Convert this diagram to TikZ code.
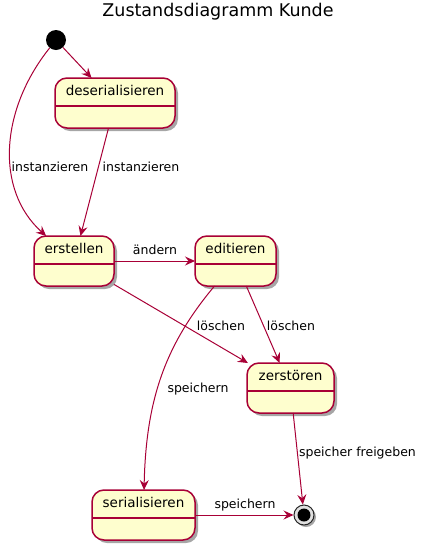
\documentclass[tikz,border=0pt]{standalone}
\usepackage{fontspec}
\setmainfont{DejaVu Sans}
\usepackage{tikz}
\usetikzlibrary{arrows.meta, shadows}
\definecolor{umlborder}{HTML}{A80036}
\definecolor{umlfill}{HTML}{FEFECE}

\begin{document}
\begin{tikzpicture}[
    x=1pt, y=-1pt,
    state/.style={draw=umlborder, fill=umlfill, line width=1.5pt, rounded corners=12pt, outer sep=0pt,
        minimum height=50pt, text height=10pt, text depth=25pt, inner ysep=7.5pt, inner xsep=0pt,
        drop shadow={shadow xshift=3pt, shadow yshift=-3pt, opacity=0.35, fill=black},
        font=\fontsize{13.5}{16}\selectfont},
    dot/.style={circle, fill=black, draw=none, inner sep=0pt},
    trans/.style={draw=umlborder, line width=1pt, -{Stealth[length=10pt, width=9pt, inset=3.5pt]}},
    lbl/.style={font=\fontsize{12.5}{15}\selectfont, inner sep=0pt}
]
    \useasboundingbox (0,0) rectangle (428,550);

    % Title
    \node[font=\fontsize{17.5}{20}\selectfont] (title) at (218,12) {Zustandsdiagramm Kunde};

    % Start and end
    \node[dot, minimum size=20pt] (ini) at (56,40) {};
    \node[circle, draw=black!85, fill=black!12, line width=1pt, minimum size=20pt, inner sep=0pt,
        drop shadow={shadow xshift=2pt, shadow yshift=-2pt, opacity=0.35, fill=black}] (fin) at (304,515) {};
    \node[dot, minimum size=13pt] (fincore) at (fin) {};

    % States
    \node[state, minimum width=120pt] (deser) at (115,103) {deserialisieren};
    \node[state, minimum width=80pt] (erst) at (74,261) {erstellen};
    \node[state, minimum width=81pt] (edit) at (235.5,261) {editieren};
    \node[state, minimum width=87pt] (zerst) at (290.5,388) {zerstören};
    \node[state, minimum width=103pt] (serial) at (143.5,515) {serialisieren};

    % Dividers
    \foreach \n in {deser, erst, edit, zerst, serial}
        \draw[umlborder, line width=1.5pt] ([yshift=-28pt]\n.north west) -- ([yshift=-28pt]\n.north east);

    % Transitions
    \draw[trans] (ini) -- (deser);
    \draw[trans] (ini) .. controls (0,110) and (-5,190) .. (erst)
        node[lbl] at (50,167) {instanzieren};
    \draw[trans] (deser) -- (erst)
        node[lbl] at (141,167) {instanzieren};
    \draw[trans] (erst) -- (edit)
        node[lbl] at (155,250) {ändern};
    \draw[trans] (erst) -- (zerst)
        node[lbl] at (221,326) {löschen};
    \draw[trans] (edit) -- (zerst)
        node[lbl] at (291,326) {löschen};
    \draw[trans] (edit) .. controls (165,345) and (146,400) .. (serial)
        node[lbl] at (198,389) {speichern};
    \draw[trans] (zerst) -- (fin)
        node[lbl] at (357.5,453) {speicher freigeben};
    \draw[trans] (serial) -- (fin)
        node[lbl] at (245,505) {speichern};

\end{tikzpicture}
\end{document}
